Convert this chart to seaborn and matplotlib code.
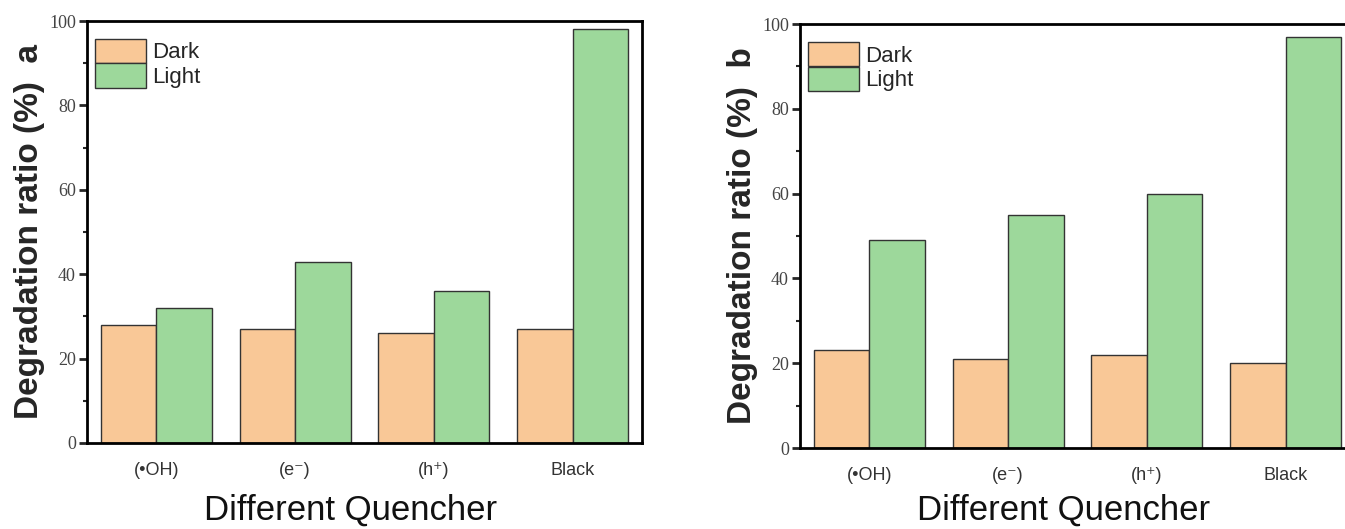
#!/usr/bin/env python3
"""
Quencher experiment: degradation ratio in dark vs light, two panels (a, b)
"""

import pandas as pd
import numpy as np
import matplotlib
matplotlib.use('Agg')
import matplotlib.pyplot as plt
import seaborn as sns

# data
quenchers = ['(\u2022OH)', '(e\u207b)', '(h\u207a)', 'Black']
conditions = ['Dark', 'Light']
dark_a = [28, 27, 26, 27]
light_a = [32, 43, 36, 98]
dark_b = [23, 21, 22, 20]
light_b = [49, 55, 60, 97]
panel_letters = ['a', 'b']

colors = {'Dark': '#F9C897', 'Light': '#9DD89B'}
sans = ['Liberation Sans', 'DejaVu Sans']


def make_frame(dark, light):
    rows = []
    for q, d, l in zip(quenchers, dark, light):
        rows.append({'quencher': q, 'condition': 'Dark', 'ratio': d})
        rows.append({'quencher': q, 'condition': 'Light', 'ratio': l})
    return pd.DataFrame(rows)


def draw_panel(ax, df, letter, xlabel_y):
    sns.barplot(data=df, x='quencher', y='ratio', hue='condition',
                hue_order=conditions, order=quenchers, palette=colors,
                width=0.8, edgecolor='#333333', linewidth=1.0,
                saturation=1, errorbar=None, ax=ax)
    ax.set_xlim(-0.5, 3.5)
    ax.set_ylim(0, 100)
    ax.set_yticks(np.arange(0, 101, 20))
    ax.set_yticks(np.arange(10, 100, 20), minor=True)

    for s in ax.spines.values():
        s.set_visible(True)
        s.set_linewidth(2)
        s.set_color('black')

    ax.tick_params(axis='y', which='major', left=True, length=6, width=2,
                   direction='out', labelsize=13, labelcolor='#444444', pad=2)
    ax.tick_params(axis='y', which='minor', left=True, length=3, width=1.5,
                   direction='out')
    ax.tick_params(axis='x', length=0, pad=14, labelsize=13, labelcolor='#333333')
    for lab in ax.get_yticklabels():
        lab.set_family(['Liberation Serif', 'DejaVu Serif'])
    for lab in ax.get_xticklabels():
        lab.set_family(sans)

    ax.set_ylabel(f'Degradation ratio (%)  {letter}', fontsize=24,
                  fontweight='bold', family=sans)
    ax.yaxis.set_label_coords(-0.075, 0.5)
    ax.set_xlabel('Different Quencher', fontsize=25, color='#111111', family=sans)
    ax.xaxis.set_label_coords(0.475, xlabel_y)
    ax.xaxis.label.set_va('top')

    ax.legend(loc='upper left', bbox_to_anchor=(0.0, 0.976), frameon=False,
              handlelength=2.3, handleheight=1.3,
              labelspacing=0.0, handletextpad=0.3, borderaxespad=0.0,
              borderpad=0.35, prop={'family': sans, 'size': 16})
    ax.grid(False)


def main():
    sns.set_style('white')
    fig = plt.figure(figsize=(13.45, 5.29), dpi=100)
    ax_a = fig.add_axes([0.0647, 0.1626, 0.4126, 0.7977])
    ax_b = fig.add_axes([0.5948, 0.1531, 0.4126, 0.8015])

    draw_panel(ax_a, make_frame(dark_a, light_a), panel_letters[0], -0.12)
    draw_panel(ax_b, make_frame(dark_b, light_b), panel_letters[1], -0.108)

    fig.savefig('out.png', dpi=100)
    plt.close(fig)


if __name__ == '__main__':
    main()
